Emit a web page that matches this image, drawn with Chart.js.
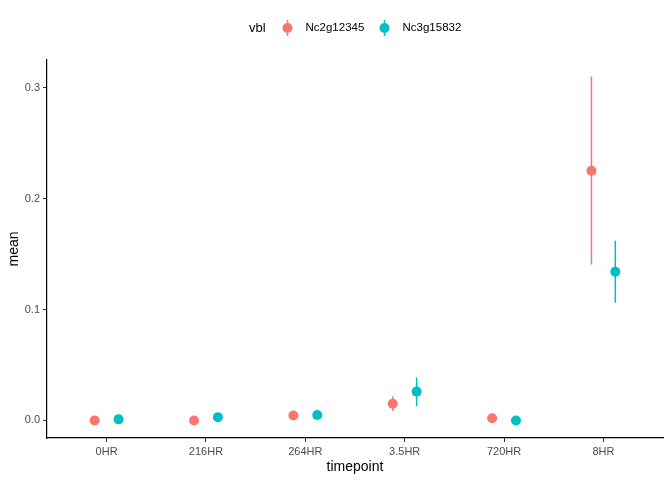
<!DOCTYPE html>
<html><head><meta charset="utf-8">
<script src="https://cdn.jsdelivr.net/npm/chart.js@4/dist/chart.umd.min.js"></script>
<style>html,body{margin:0;padding:0;background:#fff}#wrap{width:672px;height:480px}</style>
</head><body><div id="wrap"><canvas id="c" width="672" height="480"></canvas></div>
<script>
const categories = ["0HR","216HR","264HR","3.5HR","720HR","8HR"];
const seriesNames = ["Nc2g12345","Nc3g15832"];
const nc2Mean  = [0.000, 0.000, 0.0045, 0.015, 0.002, 0.225];
const nc2Lower = [0.000, 0.000, 0.0035, 0.0085, 0.0015, 0.1405];
const nc2Upper = [0.000, 0.000, 0.0055, 0.0216, 0.0025, 0.310];
const nc3Mean  = [0.001, 0.003, 0.005, 0.026, 0.000, 0.134];
const nc3Lower = [0.001, 0.003, 0.005, 0.0129, 0.000, 0.106];
const nc3Upper = [0.001, 0.003, 0.005, 0.0387, 0.000, 0.162];
const yTicks = [0, 0.1, 0.2, 0.3];
const colors = ["#F8766D", "#00BFC4"];
const dodge = 0.12;

function mk(means, lows, ups, off){
  return means.map((v,i)=>({x:i+1+off, y:v, lo:lows[i], hi:ups[i]}));
}
const FONT = "'Liberation Sans', Arial, sans-serif";

const errorBars = {
  id:'errorBars',
  beforeDatasetsDraw(chart){
    const ctx = chart.ctx, xs = chart.scales.x, ys = chart.scales.y;
    chart.data.datasets.forEach((ds)=>{
      ctx.save();
      ctx.strokeStyle = ds.backgroundColor; ctx.lineWidth = 1.5;
      ds.data.forEach(p=>{
        if (p.hi - p.lo <= 0) return;
        const x = xs.getPixelForValue(p.x);
        ctx.beginPath();
        ctx.moveTo(x, ys.getPixelForValue(p.lo));
        ctx.lineTo(x, ys.getPixelForValue(p.hi));
        ctx.stroke();
      });
      ctx.restore();
    });
  },
  afterDraw(chart){
    const ctx = chart.ctx;
    ctx.save();
    ctx.fillStyle = '#000';
    ctx.textBaseline = 'middle';
    ctx.font = "13px " + FONT;
    ctx.fillText("vbl", 249, 28);
    const gx = [287.5, 384.5];
    ctx.font = "11.5px " + FONT;
    seriesNames.forEach((n,i)=>{
      ctx.strokeStyle = colors[i]; ctx.fillStyle = colors[i]; ctx.lineWidth = 1.5;
      ctx.beginPath(); ctx.moveTo(gx[i], 20); ctx.lineTo(gx[i], 36); ctx.stroke();
      ctx.beginPath(); ctx.arc(gx[i], 28, 5, 0, Math.PI*2); ctx.fill();
      ctx.fillStyle = '#000';
      ctx.fillText(n, gx[i]+18, 28);
    });
    // axis titles
    ctx.font = "14px " + FONT;
    ctx.textAlign = 'center';
    const ca = chart.chartArea;
    ctx.fillText("timepoint", (ca.left+ca.right)/2, 467);
    ctx.translate(14, (ca.top+ca.bottom)/2);
    ctx.rotate(-Math.PI/2);
    ctx.fillText("mean", 0, 0);
    ctx.restore();
  }
};

new Chart(document.getElementById('c'), {
  type:'scatter',
  data:{datasets:[
    {label:seriesNames[0], data:mk(nc2Mean,nc2Lower,nc2Upper,-dodge), backgroundColor:colors[0], borderWidth:0, pointRadius:5, pointHoverRadius:5},
    {label:seriesNames[1], data:mk(nc3Mean,nc3Lower,nc3Upper,dodge), backgroundColor:colors[1], borderWidth:0, pointRadius:5, pointHoverRadius:5}
  ]},
  options:{
    responsive:false, animation:false, devicePixelRatio:1,
    layout:{padding:{top:60, right:9, left:0, bottom:0}},
    plugins:{legend:{display:false}, tooltip:{enabled:false}},
    scales:{
      x:{type:'linear', min:0.4, max:6.6,
        afterBuildTicks(s){ s.ticks = categories.map((c,i)=>({value:i+1})); },
        afterFit(s){ s.height = 42; },
        ticks:{callback:(v)=>categories[Math.round(v)-1] ?? '', color:'#4D4D4D', font:{size:11, family:FONT}, padding:3, maxRotation:0, autoSkip:false},
        grid:{drawOnChartArea:false, drawTicks:true, tickLength:4, color:'#333'},
        border:{display:true, color:'#000', width:1.2}
      },
      y:{min:-0.0158, max:0.3248,
        afterBuildTicks(s){ s.ticks = yTicks.map(v=>({value:v})); },
        afterFit(s){ s.width = 47; },
        ticks:{callback:(v)=>v.toFixed(1), color:'#4D4D4D', font:{size:11, family:FONT}, padding:3},
        grid:{drawOnChartArea:false, drawTicks:true, tickLength:4, color:'#333'},
        border:{display:true, color:'#000', width:1.2}
      }
    }
  },
  plugins:[errorBars]
});
</script></body></html>
